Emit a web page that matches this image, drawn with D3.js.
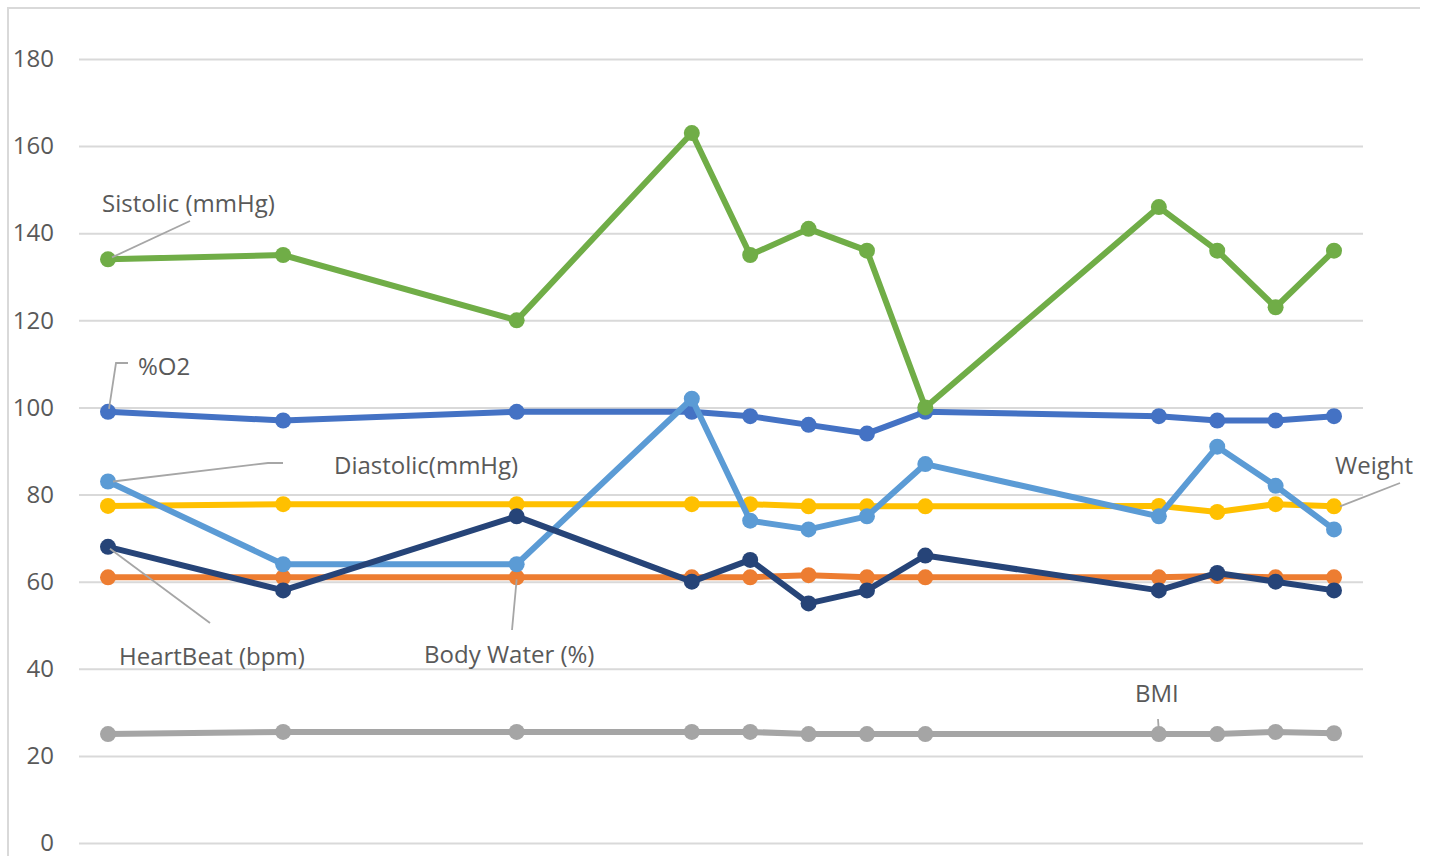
<!DOCTYPE html>
<html>
<head>
<meta charset="utf-8">
<script src="https://cdn.jsdelivr.net/npm/d3@7"></script>
<style>
  html, body { margin: 0; padding: 0; background: #fff; }
  svg { display: block; }
  text { font-family: "Open Sans", "Noto Sans", sans-serif; fill: #595959; }
</style>
</head>
<body>
<svg id="chart" width="1430" height="856"></svg>
<script>
// Day of each measurement (days since the first reading)
const dayIndex = [0, 3, 7, 10, 11, 12, 13, 14, 18, 19, 20, 21];

const systolic   = [134, 135, 120, 163, 135, 141, 136, 100, 146, 136, 123, 136];
const oxygen     = [99, 97, 99, 99, 98, 96, 94, 99, 98, 97, 97, 98];
const diastolic  = [83, 64, 64, 102, 74, 72, 75, 87, 75, 91, 82, 72];
const weight     = [77.4, 77.8, 77.8, 77.8, 77.8, 77.3, 77.3, 77.3, 77.4, 76, 77.8, 77.3];
const heartBeat  = [68, 58, 75, 60, 65, 55, 58, 66, 58, 62, 60, 58];
const bodyWater  = [61, 61, 61, 61, 61, 61.5, 61, 61, 61, 61.3, 61, 61];
const bmi        = [25, 25.5, 25.5, 25.5, 25.5, 25, 25, 25, 25, 25, 25.5, 25.2];

const yTicks = [0, 20, 40, 60, 80, 100, 120, 140, 160, 180];

// Series in drawing order (first drawn sits underneath)
const series = [
  { name: "BMI",              values: bmi,       color: "#a5a5a5" },
  { name: "Body Water (%)",   values: bodyWater, color: "#ed7d31" },
  { name: "Weight",           values: weight,    color: "#ffc000" },
  { name: "%O2",              values: oxygen,    color: "#4472c4" },
  { name: "Diastolic(mmHg)",  values: diastolic, color: "#5b9bd5" },
  { name: "HeartBeat (bpm)",  values: heartBeat, color: "#264478" },
  { name: "Sistolic (mmHg)",  values: systolic,  color: "#70ad47" }
];

const FONT = 24;
const svg = d3.select("#chart");

// Chart frame (left and top edges)
svg.append("path")
  .attr("d", "M8,856 V8 H1420")
  .attr("fill", "none")
  .attr("stroke", "#d9d9d9")
  .attr("stroke-width", 2);

const x = d3.scaleLinear().domain([0, 21]).range([108, 1334]);
const y = d3.scaleLinear().domain([0, 180]).range([843, 59]);

// Horizontal gridlines and value labels
const yAxis = d3.axisLeft(y)
  .tickValues(yTicks)
  .tickSize(-(1363 - 79))
  .tickPadding(25);

const axisG = svg.append("g")
  .attr("transform", "translate(79,0)")
  .call(yAxis);
axisG.select(".domain").remove();
axisG.selectAll(".tick line")
  .attr("stroke", "#d9d9d9")
  .attr("stroke-width", 2);
axisG.selectAll(".tick text")
  .attr("font-size", FONT)
  .attr("fill", "#595959")
  .style("font-family", "'Open Sans', 'Noto Sans', sans-serif");

// Lines and markers
const line = d3.line()
  .x((d, i) => x(dayIndex[i]))
  .y(d => y(d));

series.forEach(s => {
  const g = svg.append("g");
  g.append("path")
    .datum(s.values)
    .attr("d", line)
    .attr("fill", "none")
    .attr("stroke", s.color)
    .attr("stroke-width", 6)
    .attr("stroke-linejoin", "round");
  g.selectAll("circle")
    .data(s.values)
    .join("circle")
    .attr("cx", (d, i) => x(dayIndex[i]))
    .attr("cy", d => y(d))
    .attr("r", 8)
    .attr("fill", s.color);
});

// Series labels with leader lines
const leaderColor = "#a6a6a6";
function leader(points) {
  svg.append("polyline")
    .attr("points", points.map(p => p.join(",")).join(" "))
    .attr("fill", "none")
    .attr("stroke", leaderColor)
    .attr("stroke-width", 1.8);
}
function label(text, tx, ty) {
  svg.append("text")
    .attr("x", tx)
    .attr("y", ty)
    .attr("font-size", FONT)
    .attr("dominant-baseline", "central")
    .text(text);
}

// Sistolic
leader([[190, 221], [x(dayIndex[0]) + 4, y(systolic[0]) - 2]]);
label("Sistolic (mmHg)", 102, 202);

// %O2
leader([[128, 363], [116, 363], [x(dayIndex[0]) + 1, y(oxygen[0]) - 3]]);
label("%O2", 138, 365);

// Diastolic
leader([[283, 463], [268, 463], [x(dayIndex[0]) + 5, y(diastolic[0])]]);
label("Diastolic(mmHg)", 334, 464);

// HeartBeat
leader([[210, 623], [x(dayIndex[0]) + 2, y(heartBeat[0]) + 2]]);
label("HeartBeat (bpm)", 119, 655);

// Body Water
leader([[512, 630], [x(dayIndex[2]), y(bodyWater[2]) + 2]]);
label("Body Water (%)", 424, 653);

// Weight
leader([[1400, 483], [x(dayIndex[11]) + 6, y(weight[11])]]);
label("Weight", 1335, 464);

// BMI
leader([[1158, 719], [x(dayIndex[8]), y(bmi[8]) - 2]]);
label("BMI", 1135, 692);
</script>
</body>
</html>
